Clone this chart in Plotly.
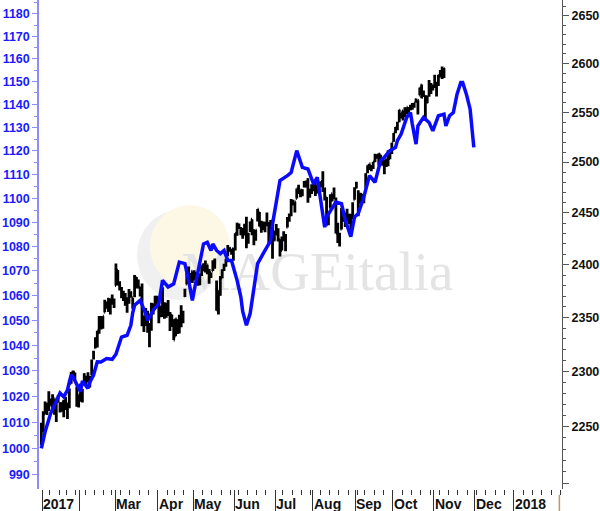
import math
import pandas as pd
import plotly.graph_objects as go

# ---------------- data ----------------
# S&P 500 daily bars, 2016-12-30 .. 2017-11-08 (right axis)
sp_open = [
    2251.6,
    2251.6, 2261.6, 2268.2, 2271.1, 2273.6, 2269.0, 2268.6, 2271.1, 2272.7, 2269.1, 2269.1, 2271.9, 2270.0, 2267.8, 2267.9, 2288.9, 2298.6, 2299.0, 2286.0, 2274.0,
    2285.6, 2276.7, 2288.5, 2294.3, 2295.9, 2289.6, 2296.7, 2312.3, 2321.7, 2326.1, 2335.6, 2349.6, 2343.0, 2354.9, 2361.1, 2367.5, 2355.7, 2365.2, 2366.1,
    2380.1, 2394.8, 2380.9, 2375.2, 2370.7, 2369.8, 2363.5, 2372.5, 2371.6, 2368.6, 2370.3, 2387.7, 2383.7, 2378.2, 2379.3, 2343.0, 2346.0, 2350.4, 2329.1, 2339.8, 2356.5, 2361.3, 2364.8,
    2362.3, 2354.8, 2366.6, 2353.8, 2356.6, 2357.2, 2353.9, 2352.2, 2342.0, 2332.6, 2342.5, 2346.8, 2342.7, 2354.7, 2370.3, 2381.5, 2389.0, 2389.7, 2393.7,
    2388.5, 2391.0, 2386.5, 2389.8, 2392.4, 2399.9, 2401.6, 2396.8, 2394.8, 2392.4, 2394.0, 2404.6, 2383.0, 2354.7, 2371.4, 2387.2, 2397.0, 2401.4, 2409.5, 2414.5, 2411.7, 2415.6,
    2415.6, 2431.3, 2437.8, 2431.9, 2432.0, 2434.3, 2436.4, 2425.9, 2434.2, 2443.8, 2424.1, 2431.2, 2442.6, 2450.7, 2439.3, 2437.4, 2434.7, 2443.3, 2436.3, 2428.7, 2442.4, 2429.2,
    2431.4, 2430.8, 2423.9, 2413.5, 2424.5, 2427.4, 2435.8, 2444.0, 2449.2, 2459.5, 2455.9, 2463.9, 2475.6, 2467.4, 2472.0, 2477.9, 2480.0, 2482.8, 2469.1, 2475.9,
    2477.1, 2480.4, 2476.0, 2476.9, 2477.1, 2478.4, 2465.4, 2465.4, 2441.0, 2455.0, 2468.7, 2468.6, 2463.0, 2427.6, 2425.5, 2433.8, 2444.9, 2447.9, 2444.7, 2447.4, 2431.9, 2446.1, 2462.7,
    2474.4, 2470.4, 2463.8, 2468.1, 2462.3, 2474.5, 2491.9, 2493.9, 2494.6, 2495.7, 2502.5, 2506.3, 2506.8, 2507.2, 2497.3, 2499.4, 2501.0, 2503.3, 2503.4, 2510.4,
    2521.2, 2530.3, 2533.5, 2540.9, 2547.4, 2551.4, 2550.0, 2550.6, 2552.9, 2555.7, 2555.6, 2557.2, 2562.9, 2553.4, 2567.6, 2578.1, 2568.7, 2566.5, 2560.1, 2570.3, 2577.8, 2576.0,
    2583.2, 2579.5, 2581.9, 2587.5, 2592.1, 2589.1,
]
sp_high = [
    2253.6,
    2263.9, 2272.8, 2271.5, 2282.1, 2275.5, 2279.3, 2275.3, 2271.8, 2278.7, 2272.1, 2272.0, 2274.3, 2277.0, 2271.8, 2284.6, 2299.6, 2301.0, 2299.0, 2286.0, 2279.1,
    2289.1, 2284.0, 2298.3, 2296.2, 2299.4, 2295.9, 2311.1, 2319.2, 2331.6, 2337.6, 2351.3, 2351.3, 2351.2, 2366.7, 2365.1, 2368.3, 2367.3, 2371.5, 2367.8,
    2401.0, 2394.8, 2383.9, 2378.8, 2375.1, 2373.1, 2369.1, 2376.9, 2374.4, 2368.6, 2390.0, 2388.1, 2385.7, 2379.0, 2381.9, 2351.8, 2358.9, 2356.2, 2344.9, 2363.8, 2363.4, 2370.4, 2370.4,
    2365.9, 2361.0, 2378.4, 2364.2, 2363.8, 2366.4, 2355.2, 2352.7, 2348.3, 2349.1, 2348.4, 2352.6, 2361.4, 2356.2, 2377.0, 2392.5, 2398.2, 2392.1, 2393.7,
    2394.5, 2392.9, 2389.8, 2391.4, 2399.3, 2401.4, 2403.9, 2399.7, 2395.7, 2392.4, 2404.1, 2405.8, 2384.9, 2375.7, 2389.1, 2395.5, 2400.9, 2405.6, 2418.7, 2416.7, 2415.3, 2416.0,
    2430.1, 2440.2, 2439.6, 2436.2, 2435.3, 2439.3, 2446.2, 2430.4, 2441.5, 2443.8, 2434.0, 2433.2, 2453.8, 2450.7, 2442.2, 2441.6, 2441.4, 2450.4, 2441.1, 2443.0, 2442.7, 2432.7,
    2439.2, 2434.9, 2424.3, 2426.9, 2432.0, 2429.3, 2445.8, 2449.3, 2463.5, 2462.8, 2460.9, 2473.8, 2477.6, 2472.5, 2473.1, 2481.2, 2481.7, 2484.0, 2473.5, 2478.0,
    2478.5, 2480.4, 2476.0, 2480.4, 2481.0, 2490.9, 2474.4, 2465.4, 2448.1, 2468.2, 2468.7, 2474.9, 2465.0, 2440.3, 2430.6, 2454.8, 2448.9, 2450.4, 2454.0, 2449.1, 2449.2, 2460.3, 2475.0,
    2480.4, 2472.0, 2469.6, 2468.6, 2467.1, 2489.0, 2496.8, 2498.4, 2496.8, 2500.2, 2508.3, 2507.8, 2508.9, 2507.2, 2503.5, 2502.5, 2503.5, 2511.8, 2510.8, 2519.4,
    2529.2, 2535.1, 2540.5, 2552.5, 2549.4, 2551.8, 2555.2, 2555.2, 2555.3, 2557.7, 2559.5, 2559.7, 2564.1, 2562.4, 2575.4, 2578.3, 2572.2, 2567.4, 2567.1, 2583.0, 2580.0, 2578.3,
    2588.4, 2581.1, 2588.4, 2593.4, 2597.0, 2595.5,
]
sp_low = [
    2233.6,
    2245.1, 2261.6, 2260.5, 2264.1, 2268.8, 2265.3, 2260.8, 2254.3, 2271.5, 2262.8, 2263.4, 2258.4, 2265.0, 2257.0, 2266.7, 2288.9, 2294.1, 2291.6, 2268.0, 2267.2,
    2272.4, 2271.7, 2287.9, 2288.6, 2290.2, 2285.4, 2296.6, 2311.1, 2321.4, 2322.2, 2334.8, 2338.9, 2339.6, 2354.9, 2358.3, 2355.1, 2352.9, 2361.9, 2359.0,
    2380.1, 2380.2, 2375.4, 2368.0, 2365.5, 2361.0, 2354.5, 2363.0, 2368.5, 2358.2, 2368.9, 2377.2, 2377.6, 2369.7, 2341.9, 2336.5, 2342.1, 2335.7, 2322.3, 2337.6, 2352.9, 2358.6, 2362.6,
    2344.7, 2350.3, 2350.5, 2348.9, 2349.8, 2351.5, 2337.3, 2341.2, 2329.0, 2332.5, 2334.5, 2335.1, 2340.9, 2344.5, 2369.2, 2381.2, 2386.8, 2382.7, 2382.4,
    2384.8, 2385.8, 2379.8, 2380.4, 2389.2, 2393.6, 2392.4, 2390.9, 2381.7, 2387.2, 2393.9, 2396.1, 2356.2, 2352.7, 2370.4, 2386.9, 2393.9, 2398.0, 2408.0, 2412.2, 2409.4, 2403.6,
    2413.5, 2427.7, 2434.3, 2428.1, 2424.8, 2427.9, 2415.7, 2420.0, 2431.3, 2428.3, 2418.5, 2422.9, 2441.8, 2436.6, 2430.7, 2433.3, 2431.1, 2437.0, 2419.4, 2428.0, 2405.7, 2422.9,
    2428.7, 2422.1, 2407.7, 2413.5, 2422.3, 2412.8, 2435.6, 2441.4, 2446.7, 2457.2, 2450.3, 2463.9, 2468.4, 2465.1, 2466.3, 2474.9, 2474.9, 2459.9, 2464.7, 2468.5,
    2471.1, 2466.5, 2468.9, 2472.1, 2475.0, 2470.3, 2462.1, 2437.8, 2437.9, 2455.0, 2461.1, 2463.3, 2430.0, 2420.7, 2417.4, 2433.7, 2441.4, 2436.2, 2442.2, 2439.0, 2428.2, 2443.8, 2462.7,
    2473.9, 2446.6, 2459.2, 2460.3, 2459.4, 2474.5, 2489.0, 2492.1, 2490.9, 2493.2, 2499.9, 2503.2, 2496.7, 2499.1, 2496.5, 2488.0, 2495.1, 2495.9, 2502.9, 2508.0,
    2520.4, 2528.9, 2531.8, 2540.0, 2543.8, 2541.6, 2544.9, 2548.0, 2548.3, 2552.1, 2552.6, 2554.7, 2559.7, 2547.9, 2567.6, 2564.3, 2565.6, 2544.0, 2559.5, 2565.9, 2568.6, 2572.2,
    2574.9, 2566.2, 2576.8, 2585.7, 2584.1, 2585.0,
]
sp_close = [
    2238.8,
    2257.8, 2270.8, 2269.0, 2277.0, 2268.9, 2268.9, 2275.3, 2270.4, 2274.6, 2267.9, 2271.9, 2263.7, 2271.3, 2265.2, 2280.1, 2298.4, 2296.7, 2294.7, 2280.9, 2278.9,
    2279.6, 2281.0, 2297.4, 2292.6, 2293.1, 2294.7, 2307.9, 2316.1, 2328.3, 2337.6, 2349.3, 2347.2, 2351.2, 2365.4, 2362.8, 2363.8, 2367.3, 2369.8, 2363.6,
    2396.0, 2381.9, 2383.1, 2375.3, 2368.4, 2363.0, 2364.9, 2372.6, 2373.5, 2365.5, 2385.3, 2381.4, 2378.3, 2373.5, 2344.0, 2348.5, 2346.0, 2344.0, 2341.6, 2358.6, 2361.1, 2368.1, 2362.7,
    2358.8, 2360.2, 2353.0, 2357.5, 2355.5, 2357.2, 2353.8, 2344.9, 2329.0, 2349.0, 2342.2, 2338.2, 2355.8, 2348.7, 2374.2, 2388.6, 2387.5, 2388.8, 2384.2,
    2388.3, 2391.2, 2388.1, 2389.5, 2399.3, 2399.4, 2396.9, 2399.6, 2394.4, 2390.9, 2402.3, 2400.7, 2357.0, 2365.7, 2381.7, 2394.0, 2398.4, 2404.4, 2415.1, 2415.8, 2412.9, 2411.8,
    2430.1, 2439.1, 2436.1, 2429.3, 2433.1, 2433.8, 2431.8, 2429.4, 2440.4, 2437.9, 2432.5, 2433.2, 2453.5, 2437.0, 2435.6, 2434.5, 2438.3, 2439.1, 2419.4, 2440.7, 2419.7, 2423.4,
    2429.0, 2432.5, 2409.8, 2425.2, 2427.4, 2425.5, 2443.3, 2447.8, 2459.3, 2459.1, 2460.6, 2473.8, 2473.5, 2472.5, 2469.9, 2477.1, 2477.8, 2475.4, 2472.1, 2470.3,
    2476.4, 2477.6, 2472.2, 2476.8, 2480.9, 2474.9, 2474.0, 2438.2, 2441.3, 2465.8, 2464.6, 2468.1, 2430.0, 2425.6, 2428.4, 2452.5, 2444.0, 2439.0, 2443.1, 2444.2, 2446.3, 2457.6, 2471.7,
    2476.6, 2457.9, 2465.5, 2465.1, 2461.4, 2488.1, 2496.5, 2498.4, 2495.6, 2500.2, 2503.9, 2506.7, 2508.2, 2500.6, 2502.2, 2496.7, 2496.8, 2507.0, 2510.1, 2519.4,
    2529.1, 2534.6, 2537.7, 2552.1, 2549.3, 2544.7, 2550.6, 2555.2, 2550.9, 2553.2, 2557.6, 2559.4, 2561.3, 2562.1, 2575.2, 2565.0, 2569.1, 2557.2, 2560.4, 2581.1, 2572.8, 2575.3,
    2579.4, 2579.9, 2587.8, 2591.1, 2590.6, 2594.4,
]

# blue indicator (left axis)
blue_dates = [
    "2016-12-30", "2017-01-04", "2017-01-09", "2017-01-11", "2017-01-17", "2017-01-19", "2017-01-23", "2017-01-24",
    "2017-01-25", "2017-01-26", "2017-01-30", "2017-02-01", "2017-02-02", "2017-02-07", "2017-02-08", "2017-02-10",
    "2017-02-14", "2017-02-16", "2017-02-22", "2017-02-27", "2017-03-01", "2017-03-02", "2017-03-06", "2017-03-09",
    "2017-03-13", "2017-03-14", "2017-03-15", "2017-03-20", "2017-03-23", "2017-03-24", "2017-03-29", "2017-04-03",
    "2017-04-05", "2017-04-10", "2017-04-13", "2017-04-19", "2017-04-24", "2017-04-26", "2017-04-28", "2017-05-01",
    "2017-05-02", "2017-05-04", "2017-05-08", "2017-05-10", "2017-05-11", "2017-05-12", "2017-05-15", "2017-05-17",
    "2017-05-19", "2017-05-23", "2017-05-25", "2017-05-30", "2017-06-02", "2017-06-06", "2017-06-07", "2017-06-09",
    "2017-06-13", "2017-06-15", "2017-06-19", "2017-06-22", "2017-06-26", "2017-06-28", "2017-06-29", "2017-07-03",
    "2017-07-06", "2017-07-12", "2017-07-14", "2017-07-19", "2017-07-24", "2017-07-27", "2017-08-01", "2017-08-03",
    "2017-08-07", "2017-08-09", "2017-08-10", "2017-08-15", "2017-08-17", "2017-08-22", "2017-08-24", "2017-08-29",
    "2017-08-31", "2017-09-05", "2017-09-08", "2017-09-13", "2017-09-18", "2017-09-21", "2017-09-25", "2017-09-28",
    "2017-10-03", "2017-10-04", "2017-10-06", "2017-10-11", "2017-10-13", "2017-10-16", "2017-10-18", "2017-10-19",
    "2017-10-24", "2017-10-27", "2017-10-31", "2017-11-03", "2017-11-08", "2017-11-09", "2017-11-13", "2017-11-15",
    "2017-11-17", "2017-11-21", "2017-11-22", "2017-11-24", "2017-11-28", "2017-11-30",
]
blue_vals = [
    1000.0, 1006.3, 1013.4, 1016.8, 1021.3, 1019.8, 1022.4, 1025.6,
    1028.3, 1027.5, 1024.5, 1021.8, 1026.0, 1023.1, 1025.5, 1028.3,
    1033.5, 1033.4, 1034.8, 1034.5, 1036.5, 1038.5, 1043.3, 1044.0,
    1048.0, 1053.0, 1056.0, 1058.0, 1052.7, 1050.0, 1054.0, 1056.7,
    1066.1, 1063.4, 1064.7, 1073.5, 1072.9, 1066.1, 1058.0, 1062.0,
    1065.5, 1072.9, 1081.0, 1081.7, 1079.5, 1078.3, 1081.0, 1078.3,
    1077.0, 1078.3, 1074.2, 1074.2, 1066.1, 1059.4, 1053.5, 1048.0,
    1052.7, 1063.4, 1072.9, 1077.0, 1079.6, 1082.4, 1089.2, 1099.0,
    1107.4, 1109.5, 1110.8, 1120.1, 1113.0, 1112.3, 1106.0, 1108.8,
    1099.0, 1087.9, 1092.1, 1096.3, 1098.4, 1097.7, 1091.0, 1084.0,
    1092.1, 1093.6, 1100.5, 1109.5, 1106.7, 1115.9, 1117.3, 1120.1,
    1121.5, 1124.4, 1127.2, 1134.4, 1136.5, 1131.5, 1122.9, 1130.7,
    1134.4, 1132.2, 1128.6, 1135.1, 1135.8, 1130.7, 1135.1, 1136.5,
    1144.5, 1149.6, 1149.6, 1144.5, 1138.0, 1121.5,
]

left_ticks = [990, 1000, 1010, 1020, 1030, 1040, 1050, 1060, 1070, 1080, 1090,
              1100, 1110, 1120, 1130, 1140, 1150, 1160, 1170, 1180]
right_ticks = [2200, 2250, 2300, 2350, 2400, 2450, 2500, 2550, 2600, 2650]
right_labels = ["", "2250", "2300", "2350", "2400", "2450", "2500", "2550", "2600", "2650"]
month_labels = ["2017", "", "Mar", "Apr", "May", "Jun", "Jul", "Aug", "Sep", "Oct", "Nov", "Dec", "2018"]

# ---------------- calendar (bar slots) ----------------
holidays = {"2017-01-16", "2017-02-20", "2017-04-14", "2017-05-29", "2017-07-04", "2017-09-04"}
cal = [pd.Timestamp("2016-12-30")]
cal += [d for d in pd.bdate_range("2017-01-03", "2017-11-08") if d.strftime("%Y-%m-%d") not in holidays]
cal += list(pd.bdate_range("2017-11-09", "2018-02-09"))
slot = {d.strftime("%Y-%m-%d"): i for i, d in enumerate(cal)}

sp_x = list(range(len(sp_close)))
blue_x = [slot[d] for d in blue_dates]

month_bounds, week_bounds = [], []
for i in range(1, len(cal)):
    if cal[i].month != cal[i - 1].month:
        month_bounds.append(i - 0.5)
    if cal[i].isocalendar()[1] != cal[i - 1].isocalendar()[1]:
        week_bounds.append(i - 0.5)
month_bounds = month_bounds[:len(month_labels)]

# ---------------- figure ----------------
fig = go.Figure()
fig.add_trace(go.Ohlc(
    x=sp_x, open=sp_open, high=sp_high, low=sp_low, close=sp_close,
    increasing=dict(line=dict(color="#000000", width=2.8)),
    decreasing=dict(line=dict(color="#000000", width=2.8)),
    tickwidth=0.5, yaxis="y", xaxis="x", showlegend=False, hoverinfo="skip",
))
fig.add_trace(go.Scatter(
    x=blue_x, y=blue_vals, mode="lines", yaxis="y2",
    line=dict(color="#0a0aff", width=3.5), showlegend=False, hoverinfo="skip",
))

tickfont = dict(family="Liberation Sans, Arial, sans-serif", size=12.5, weight="bold")

fig.update_layout(
    width=600, height=511,
    margin=dict(l=39, r=38, t=0, b=22, pad=0),
    paper_bgcolor="white", plot_bgcolor="white",
    xaxis=dict(
        range=[-1.27, 279.3], showgrid=False, zeroline=False, showline=False,
        tickmode="array", tickvals=month_bounds, ticks="outside", ticklen=22,
        tickwidth=1, tickcolor="#333333", showticklabels=False,
        minor=dict(tickmode="array", tickvals=week_bounds, ticks="outside",
                   ticklen=5, tickwidth=1, tickcolor="#333333"),
        rangeslider=dict(visible=False), automargin=False,
    ),
    yaxis=dict(
        type="log", side="right",
        range=[math.log10(2194.9), math.log10(2666.6)],
        tickmode="array", tickvals=right_ticks, ticktext=right_labels,
        ticks="outside", ticklen=6, tickwidth=1, tickcolor="#555555",
        showline=True, linecolor="#555555", linewidth=1,
        showgrid=False, zeroline=False,
        tickfont=dict(color="#111111", **tickfont),
        minor=dict(tickmode="array",
                   tickvals=[v for v in range(2200, 2670, 10) if v % 50],
                   ticks="outside", ticklen=3, tickcolor="#555555"),
        automargin=False,
    ),
    yaxis2=dict(
        type="log", side="left", overlaying="y",
        range=[math.log10(984.6), math.log10(1186.3)],
        tickmode="array", tickvals=left_ticks, ticktext=[str(v) for v in left_ticks],
        ticks="outside", ticklen=5, tickwidth=1, tickcolor="#8c8cff",
        showline=True, linecolor="#8c8cff", linewidth=1.5,
        showgrid=False, zeroline=False,
        tickfont=dict(color="#1a1aff", **tickfont),
        minor=dict(tickmode="array", tickvals=[v + 5 for v in left_ticks],
                   ticks="outside", ticklen=3, tickcolor="#8c8cff"),
        automargin=False,
    ),
)

# month labels, left aligned just after each separator
for xb, lab in zip(month_bounds, month_labels):
    if lab:
        fig.add_annotation(x=xb, y=0, xref="x", yref="paper", text=lab,
                           showarrow=False, xanchor="left", yanchor="top",
                           xshift=-1, yshift=-5,
                           font=dict(family="Liberation Sans, Arial, sans-serif",
                                     size=14, color="#111111", weight="bold"))

# end-of-axis marker
fig.add_shape(type="line", xref="x", yref="paper", x0=277.9, x1=277.9,
              y0=-0.012, y1=-0.045, line=dict(color="#c8965a", width=1.5))

# watermark (behind the data)
def px2paper(x, y):
    return (x - 39) / 523.0, (489 - y) / 489.0

gx0, gy0 = px2paper(137, 300)
gx1, gy1 = px2paper(222, 210)
fig.add_shape(type="circle", xref="paper", yref="paper", x0=gx0, y0=gy0, x1=gx1, y1=gy1,
              fillcolor="#f0f0f0", line=dict(width=0), layer="below")
yx0, yy0 = px2paper(150, 288)
yx1, yy1 = px2paper(230, 205)
fig.add_shape(type="circle", xref="paper", yref="paper", x0=yx0, y0=yy0, x1=yx1, y1=yy1,
              fillcolor="#fdf8e6", line=dict(width=0), layer="below")
tx0, ty0 = px2paper(170, 300)
tx1, ty1 = px2paper(465, 230)
fig.add_shape(type="rect", xref="paper", yref="paper", x0=tx0, y0=ty0, x1=tx1, y1=ty1,
              fillcolor="rgba(0,0,0,0)", line=dict(width=0), layer="below",
              label=dict(text="MAGEitalia", textposition="middle center",
                         font=dict(family="Liberation Serif, Times New Roman, serif",
                                   size=55, color="#e4e4e4")))

fig.write_html("out.html", config={"displayModeBar": False},
               post_script="document.body.style.margin='0px';")
